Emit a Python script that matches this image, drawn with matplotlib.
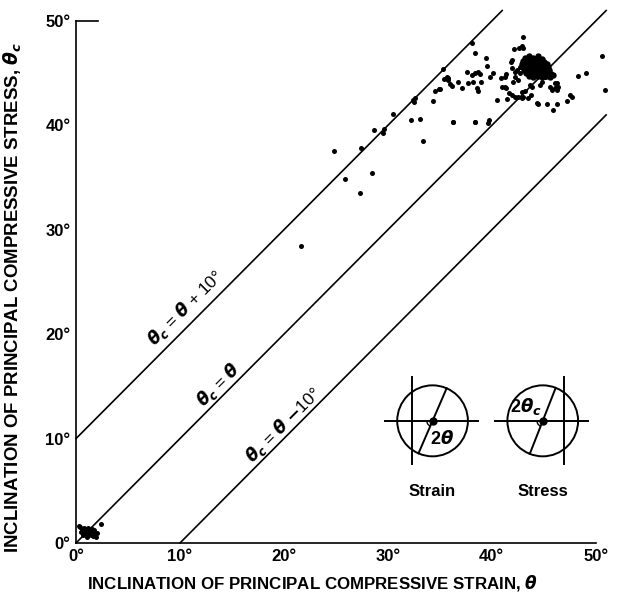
import matplotlib
matplotlib.use("Agg")
import matplotlib.pyplot as plt
from matplotlib.patches import Circle, Arc
import numpy as np

plt.rcParams['font.family'] = ['Liberation Sans', 'DejaVu Sans']
plt.rcParams['font.weight'] = 'bold'

# measured points: strain inclination (theta) vs stress inclination (theta_c), degrees
theta_low = [0.3, 0.4, 0.6, 0.8, 0.5, 0.9, 1.0, 1.2, 1.1, 1.3, 1.4, 1.5,
             1.6, 1.7, 1.8, 2.0, 1.9, 0.7, 1.2, 2.4, 0.9, 1.5]
thetac_low = [1.6, 1.5, 1.3, 1.4, 1.1, 1.0, 1.2, 0.9, 0.6, 1.1, 0.8, 1.0,
              0.7, 1.2, 0.9, 1.0, 0.6, 0.8, 1.4, 1.8, 1.3, 1.3]

theta_mid = [21.6, 24.8, 25.9, 27.3, 27.4, 28.5, 28.7, 29.5, 29.6, 30.5,
             32.2, 33.1, 33.4, 32.4, 32.6, 32.5, 34.3, 34.5, 34.9, 35.4,
             35.8, 35.3, 35.7, 35.8, 36.0, 36.2, 36.3, 36.7, 37.1, 37.6,
             37.7, 38.1, 38.2, 38.4, 38.4, 38.6, 38.7, 38.7, 38.9, 39.0,
             38.1, 39.4, 39.5, 39.7, 39.6, 39.8, 40.1, 40.9, 41.0, 41.3,
             41.4, 41.5, 41.7, 41.9, 42.2, 42.5, 42.9, 43.0, 43.5, 43.8,
             42.9, 43.2, 41.9, 42.2, 42.0, 43.7, 43.9, 44.3, 44.6, 45.3,
             45.9, 45.6, 45.8, 46.1, 46.1, 35.0, 43.0, 42.1, 42.6, 42.9,
             43.0, 38.4, 41.9, 41.8, 42.7, 42.7, 42.4, 42.2, 42.5, 44.8,
             45.1, 46.3, 46.4, 46.3, 46.3, 44.4, 48.3, 49.1, 47.5, 47.7,
             47.2, 50.6, 50.9, 41.4, 41.3, 36.3, 38.4, 40.5]
thetac_mid = [28.4, 37.5, 34.9, 33.5, 37.8, 35.4, 39.6, 39.3, 39.7, 41.1,
              40.5, 40.6, 38.5, 42.4, 42.6, 42.2, 42.3, 43.3, 43.5, 44.4,
              44.5, 45.4, 44.6, 44.3, 44.0, 43.8, 40.3, 44.2, 43.6, 45.1,
              44.1, 44.8, 44.2, 45.0, 40.3, 43.6, 43.3, 45.1, 44.9, 44.2,
              47.9, 46.5, 45.7, 40.5, 40.2, 44.6, 45.0, 44.5, 43.7, 43.7,
              43.6, 42.5, 43.1, 42.9, 42.7, 42.7, 42.6, 42.7, 42.6, 42.9,
              43.2, 43.3, 45.5, 45.1, 44.2, 43.9, 43.7, 42.1, 43.9, 42.0,
              41.5, 43.7, 43.4, 44.1, 43.6, 43.5, 48.5, 47.3, 47.4, 47.6,
              47.4, 46.9, 46.3, 46.1, 45.6, 45.0, 45.3, 44.6, 44.3, 44.2,
              44.6, 44.1, 43.7, 43.4, 42.0, 42.0, 44.7, 45.0, 42.9, 42.7,
              42.3, 46.6, 43.4, 44.9, 44.6, 40.3, 40.3, 42.4]

# dense cluster near (44, 45.5)
theta_blob = [43.2, 43.6, 44.0, 44.4, 44.8,
              43.0, 43.4, 43.8, 44.2, 44.6, 45.0,
              42.9, 43.3, 43.7, 44.1, 44.5, 44.9, 45.3,
              43.0, 43.4, 43.8, 44.2, 44.6, 45.0, 45.4,
              43.1, 43.5, 43.9, 44.3, 44.7, 45.1, 45.5,
              43.3, 43.7, 44.1, 44.5, 44.9, 45.3, 45.7,
              43.6, 44.0, 44.4, 44.8, 45.2, 45.6, 45.9,
              43.4, 43.8, 44.2, 44.6, 43.2, 43.6, 44.0, 44.4, 44.8, 45.2,
              43.5, 43.9, 44.3, 44.7, 45.1, 45.5, 43.8, 44.2, 44.6, 45.0]
thetac_blob = [46.5, 46.6, 46.5, 46.6, 46.4,
               46.2, 46.3, 46.2, 46.2, 46.1, 46.1,
               45.9, 45.9, 45.8, 45.9, 45.9, 45.8, 45.9,
               45.6, 45.6, 45.5, 45.6, 45.6, 45.5, 45.6,
               45.3, 45.2, 45.3, 45.3, 45.2, 45.3, 45.3,
               45.0, 44.9, 45.0, 45.0, 44.9, 45.0, 44.9,
               44.7, 44.6, 44.7, 44.6, 44.7, 44.6, 44.8,
               46.4, 46.4, 46.3, 46.3, 46.0, 46.0, 46.0, 46.0, 46.0, 45.9,
               45.4, 45.4, 45.4, 45.4, 45.4, 45.1, 44.8, 44.8, 44.8, 44.8]

offsets = [10, 0, -10]
line_labels = [r'$\theta_c$ = $\theta$ + 10°', r'$\theta_c$ = $\theta$',
               r'$\theta_c$ = $\theta$ $-$10°']
label_x = [11.2, 14.4, 20.6]
label_lift = [0.6, 0.0, 0.0]
ticks = [0, 10, 20, 30, 40, 50]
tick_labels = ['0°', '10°', '20°', '30°', '40°', '50°']

fig = plt.figure(figsize=(6.18, 5.99), dpi=100)
ax = fig.add_axes([0.123, 0.0935, 0.841, 0.8715])

theta = theta_low + theta_mid
thetac = thetac_low + thetac_mid
ax.plot(theta, thetac, 'o', color='black', markersize=3.6, markeredgewidth=0,
        clip_on=False)
ax.plot(theta_blob, thetac_blob, 'o', color='black', markersize=4.6,
        markeredgewidth=0)

for off, lab, lx, lift in zip(offsets, line_labels, label_x, label_lift):
    x0 = max(0, -off)
    x1 = min(51, 51 - off)
    ax.plot([x0, x1], [x0 + off, x1 + off], color='black', lw=1.2,
            clip_on=False)
    ax.text(lx, lx + off + lift, lab, rotation=45, rotation_mode='anchor',
            ha='center', va='bottom', fontsize=12.5, fontweight='normal')

# inset sketches of Mohr circles
lw_in = 1.4
for cx, ang, vx, lab, lab_xy, lab_txt in [
        (34.3, 246.5, 32.3, 'Strain', (35.2, 10.0), r'2$\theta$'),
        (44.9, 248.5, 46.9, 'Stress', (43.3, 13.1), r'2$\theta_c$')]:
    cy = 11.7
    r = 3.4
    ax.add_patch(Circle((cx, cy), r, fill=False, lw=lw_in, color='black'))
    ax.plot([cx - 4.6, cx + 4.4], [cy, cy], color='black', lw=lw_in)
    ax.plot([vx, vx], [cy - 4.1, cy + 4.2], color='black', lw=lw_in)
    a = np.radians(ang)
    ax.plot([cx + r * np.cos(a), cx - r * np.cos(a)],
            [cy + r * np.sin(a), cy - r * np.sin(a)], color='black', lw=lw_in)
    ax.plot([cx], [cy], 'o', color='black', markersize=5)
    ax.add_patch(Arc((cx, cy), 1.1, 1.1, theta1=180, theta2=ang,
                     lw=1.0, color='black'))
    ax.text(lab_xy[0], lab_xy[1], lab_txt, ha='center', va='center',
            fontsize=13)
    ax.text(cx, 4.9, lab, ha='center', va='center', fontsize=12)

ax.set_xlim(0, 50)
ax.set_ylim(0, 50)
ax.set_xticks(ticks)
ax.set_xticklabels(tick_labels)
ax.set_yticks(ticks)
ax.set_yticklabels(tick_labels)
ax.tick_params(length=0, labelsize=12, pad=4)
for s in ['top', 'right']:
    ax.spines[s].set_visible(False)
for s in ['left', 'bottom']:
    ax.spines[s].set_linewidth(1.2)
ax.axhline(50, xmax=0.042, color='black', lw=1.2, clip_on=False)

ax.set_xlabel(r'INCLINATION OF PRINCIPAL COMPRESSIVE STRAIN, $\theta$',
              fontsize=12.2, fontweight='bold')
ax.xaxis.set_label_coords(0.454, -0.058)
ax.set_ylabel(r'INCLINATION OF PRINCIPAL COMPRESSIVE STRESS, $\theta_c$',
              fontsize=13.4, fontweight='bold')
ax.yaxis.set_label_coords(-0.1, 0.471)

fig.savefig('out.png', dpi=100)
